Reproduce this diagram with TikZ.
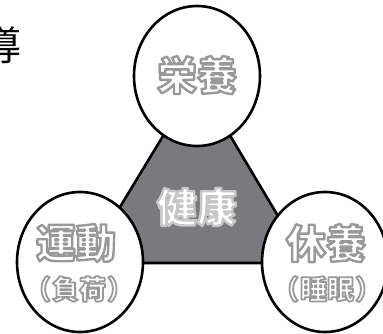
\documentclass[tikz,border=0pt]{standalone}
\usepackage{fontspec}
\usetikzlibrary{shapes.geometric}
\newfontfamily\jp{Noto Sans CJK JP}
\definecolor{trifill}{HTML}{7A797E}
% outlined text: white fill, grey stroke (PDF text render mode 2)
\newcommand{\outA}[1]{\special{pdf:code q 2 Tr 2.4 w 1 j 0.6 0.6 0.6 RG}#1\special{pdf:code Q}}
\newcommand{\outS}[1]{\special{pdf:code q 2 Tr 1.8 w 1 j 0.6 0.6 0.6 RG}#1\special{pdf:code Q}}
\newcommand{\outB}[1]{\special{pdf:code q 2 Tr 2.4 w 1 j 0.78 0.78 0.78 RG}#1\special{pdf:code Q}}
\begin{document}
\begin{tikzpicture}[x=1pt,y=-1pt,
  ring/.style={ellipse,draw=black,line width=2.6pt,fill=white,inner sep=0pt,minimum width=126pt,minimum height=140pt},
  big/.style={font=\jp\bfseries\fontsize{40}{40}\selectfont,inner sep=0pt,text=white},
  small/.style={font=\jp\bfseries\fontsize{27}{27}\selectfont,inner sep=0pt,text=white},
]
\useasboundingbox (0,0) rectangle (383,333);
\fill[white] (0,0) rectangle (383,333);
% partially visible title character
\node[font=\jp\fontsize{40}{40}\selectfont,inner sep=0pt] (title) at (2,45) {導};
% triangle
\coordinate (ta) at (197,80);
\coordinate (tl) at (86,263);
\coordinate (tr) at (306,263);
\draw[line width=2.6pt,fill=trifill,line join=miter] (ta) -- (tl) -- (tr) -- cycle;
% circles
\node[ring] (ctop) at (197,76) {};
\node[ring] (cleft) at (80,262) {};
\node[ring] (cright) at (325,262) {};
% labels
\node[big] (eiyo) at (197,75) {\outA{栄養}};
\node[big] (kenko) at (197,207) {\outB{健康}};
\node[big] (undo) at (76,243) {\outA{運動}};
\node[small] (fuka) at (79,289) {\outS{（\hspace{1pt}負荷\hspace{1pt}）}};
\node[big] (kyuyo) at (326,243) {\outA{休養}};
\node[small] (suimin) at (327,289) {\outS{（\hspace{1pt}睡眠\hspace{1pt}）}};
\end{tikzpicture}
\end{document}
